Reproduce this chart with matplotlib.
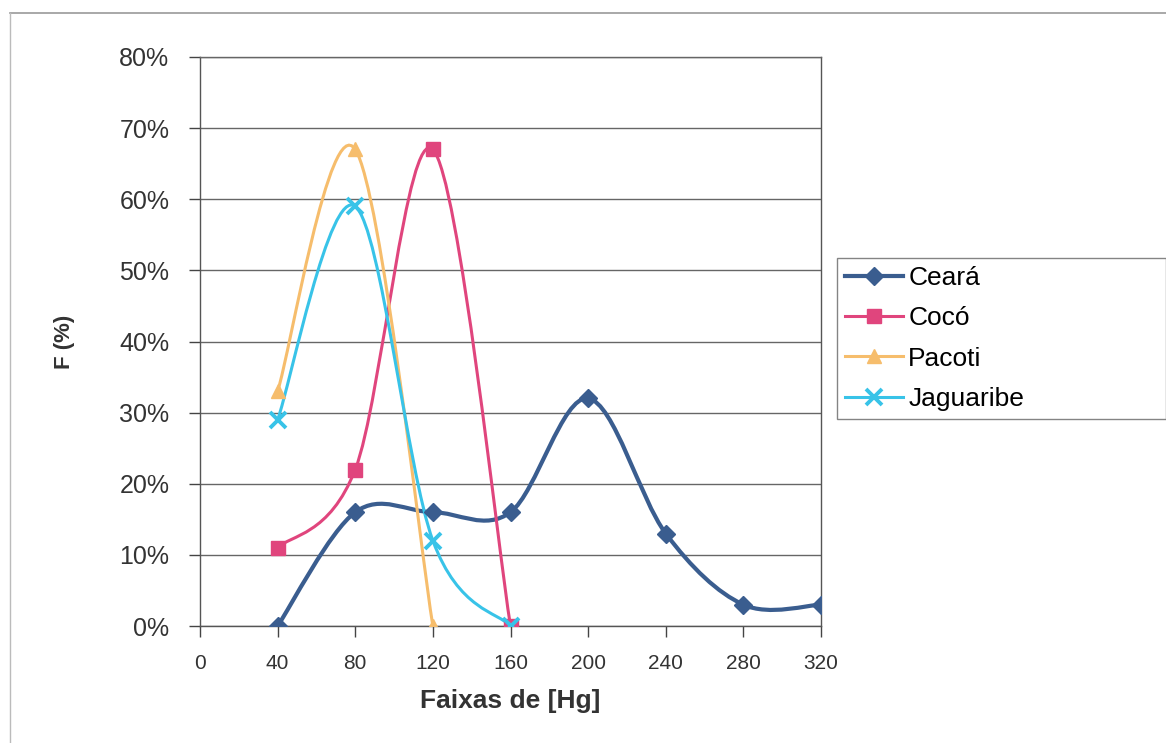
import numpy as np
import matplotlib.pyplot as plt
from matplotlib.path import Path
from matplotlib.patches import PathPatch
from matplotlib.lines import Line2D

plt.rcParams['font.family'] = ['Liberation Sans', 'DejaVu Sans']

# data
ceara_x = [40, 80, 120, 160, 200, 240, 280, 320]
ceara_y = [0, 16, 16, 16, 32, 13, 3, 3]
coco_x = [40, 80, 120, 160]
coco_y = [11, 22, 67, 0]
pacoti_x = [40, 80, 120]
pacoti_y = [33, 67, 0]
jag_x = [40, 80, 120, 160]
jag_y = [29, 59, 12, 0]

xticks = [0, 40, 80, 120, 160, 200, 240, 280, 320]
yticks = [0, 10, 20, 30, 40, 50, 60, 70, 80]


def smooth_path(x, y):
    # excel-like smoothed line: bezier segments, control points from neighbours
    p = np.column_stack([x, y]).astype(float)
    n = len(p)
    verts = [p[0]]
    codes = [Path.MOVETO]
    for i in range(n - 1):
        prev = p[i - 1] if i > 0 else p[i]
        nxt = p[i + 2] if i + 2 < n else p[i + 1]
        c1 = p[i] + (p[i + 1] - prev) / 6
        c2 = p[i + 1] - (nxt - p[i]) / 6
        verts += [c1, c2, p[i + 1]]
        codes += [Path.CURVE4] * 3
    return Path(verts, codes)


fig = plt.figure(figsize=(11.66, 7.43), dpi=100)
ax = fig.add_axes([200 / 1166, 117 / 743, 621 / 1166, 569 / 743])

series = [
    ("Ceará", ceara_x, ceara_y, "#3a5d8f", "D", 9),
    ("Cocó", coco_x, coco_y, "#e0457d", "s", 10),
    ("Pacoti", pacoti_x, pacoti_y, "#f6bd6c", "^", 10),
    ("Jaguaribe", jag_x, jag_y, "#38c3e8", "x", 11),
]

handles = []
for name, x, y, col, mk, ms in series:
    lw = 3.0 if name == "Ceará" else 2.2
    ax.add_patch(PathPatch(smooth_path(x, y), facecolor='none', edgecolor=col, lw=lw, zorder=3))
    ax.plot(x, y, linestyle='none', marker=mk, color=col, markersize=ms, mew=2.8 if mk == 'x' else 1, zorder=4)
    handles.append(Line2D([], [], color=col, lw=lw, marker=mk, markersize=ms, mew=2.8 if mk == 'x' else 1))

ax.set_xlim(0, 320)
ax.set_ylim(0, 80)
ax.set_xticks(xticks)
ax.set_yticks(yticks)
ax.set_xticklabels([str(t) for t in xticks], fontsize=15, color='#333333')
ax.set_yticklabels([f"{t}%" for t in yticks], fontsize=18, color='#333333')
ax.tick_params(axis='both', direction='out', length=8, width=1, color='#444444')
ax.tick_params(axis='y', pad=14)
ax.tick_params(axis='x', pad=12)
ax.yaxis.grid(True, color='#666666', lw=1)
ax.set_axisbelow(True)
for s in ax.spines.values():
    s.set_color('#555555')
    s.set_linewidth(1)
ax.spines['top'].set_color('#666666')

ax.set_xlabel("Faixas de [Hg]", fontsize=19, fontweight='bold', color='#333333', labelpad=12)
ax.set_ylabel("F (%)", fontsize=16, fontweight='bold', color='#333333', labelpad=32)

leg = fig.legend(handles, [s[0] for s in series], loc='upper left',
                 bbox_to_anchor=(837 / 1166, 1 - 258 / 743 - 0.01, 329 / 1166, 0.01), mode='expand',
                 fontsize=19, frameon=True, fancybox=False, handlelength=2.2, borderpad=0.3,
                 labelspacing=0.62, handletextpad=0.2, borderaxespad=0)
leg.get_frame().set_edgecolor('#666666')
leg.get_frame().set_linewidth(1)

# outer chart border (top and left visible)
fig.add_artist(Line2D([10 / 1166, 1.0], [1 - 13 / 743, 1 - 13 / 743], color='#999999', lw=1.2))
fig.add_artist(Line2D([10 / 1166, 10 / 1166], [0, 1 - 13 / 743], color='#bbbbbb', lw=1))

fig.savefig("out.png", dpi=100)
